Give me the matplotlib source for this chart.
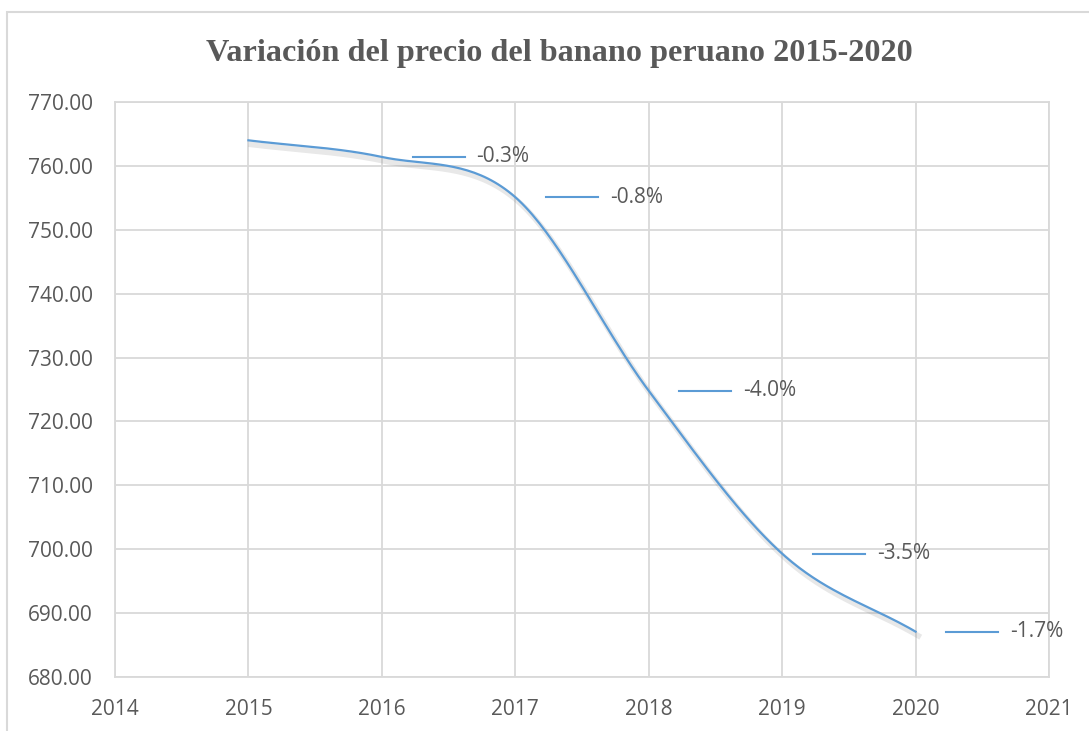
import numpy as np
import matplotlib
matplotlib.use("Agg")
import matplotlib.pyplot as plt
import matplotlib.patheffects as pe
from matplotlib.patches import Rectangle

years = [2015, 2016, 2017, 2018, 2019, 2020]
prices = [764.0, 761.4, 755.1, 724.8, 699.3, 687.1]
changes = ["", "-0.3%", "-0.8%", "-4.0%", "-3.5%", "-1.7%"]
title = "Variación del precio del banano peruano 2015-2020"

def smooth(xs, ys, n=40):
    xs = np.asarray(xs, float); ys = np.asarray(ys, float)
    px = np.concatenate([[2*xs[0]-xs[1]], xs, [2*xs[-1]-xs[-2]]])
    py = np.concatenate([[2*ys[0]-ys[1]], ys, [2*ys[-1]-ys[-2]]])
    ox, oy = [], []
    for i in range(1, len(px)-2):
        p0, p1, p2, p3 = (np.array([px[j], py[j]]) for j in (i-1, i, i+1, i+2))
        c1 = p1 + (p2 - p0) / 6
        c2 = p2 - (p3 - p1) / 6
        t = np.linspace(0, 1, n)[:, None]
        b = (1-t)**3*p1 + 3*(1-t)**2*t*c1 + 3*(1-t)*t**2*c2 + t**3*p2
        ox.extend(b[:, 0]); oy.extend(b[:, 1])
    return np.array(ox), np.array(oy)

txt = "#595959"
grid = "#d9d9d9"
blue = "#5b9bd5"
fs = 15

fig = plt.figure(figsize=(10.89, 7.31), dpi=100)
fig.patches.append(Rectangle((7/1089, -0.05), 1.1, 1 - 12/731 + 0.05, transform=fig.transFigure,
                             fill=False, edgecolor=grid, linewidth=1.5))
ax = fig.add_axes([115/1089, 1-677/731, (1049-115)/1089, (677-102)/731])

sx, sy = smooth(years, prices)
ax.plot(sx, sy, color=blue, lw=1.6, zorder=3,
        path_effects=[pe.SimpleLineShadow(offset=(2, -3), shadow_color="gray", alpha=0.18, linewidth=4), pe.Normal()])

for x, y, c in zip(years, prices, changes):
    if not c:
        continue
    ax.plot([x + 0.23, x + 0.62], [y, y], color=blue, lw=1.5, zorder=3)
    ax.text(x + 0.71, y, c, color=txt, fontsize=fs, family="Open Sans", va="center", ha="left")

ax.set_xlim(2014, 2021)
ax.set_ylim(680, 770)
ax.set_xticks(range(2014, 2022))
ax.set_yticks(np.arange(680, 771, 10))
ax.set_yticklabels([f"{v:.2f}" for v in np.arange(680, 771, 10)])
ax.grid(True, color=grid, lw=1.3)
ax.set_axisbelow(True)
for s in ax.spines.values():
    s.set_color(grid); s.set_linewidth(1.3)
ax.tick_params(length=0, labelsize=fs, labelcolor=txt)
ax.tick_params(axis="y", pad=16)
ax.tick_params(axis="x", pad=16)
for lab in ax.get_xticklabels() + ax.get_yticklabels():
    lab.set_family("Open Sans")

fig.text(0.514, 1-54/731, title, ha="center", va="center", fontsize=23.2, fontweight="bold",
         family="Liberation Serif", color=txt)

fig.savefig("out.png", dpi=100)
